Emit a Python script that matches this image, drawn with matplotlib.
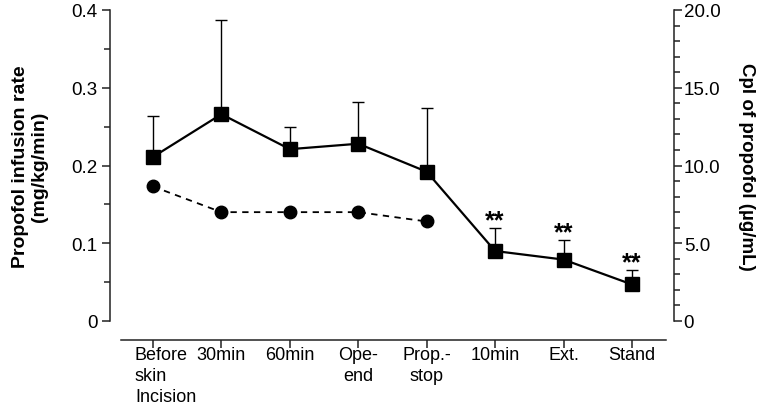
import matplotlib
matplotlib.use("Agg")
import matplotlib.pyplot as plt
from matplotlib.ticker import MultipleLocator, FixedLocator

plt.rcParams['font.family'] = ['Liberation Sans', 'DejaVu Sans']

categories = ["Before\nskin\nIncision", "30min", "60min", "Ope-\nend", "Prop.-\nstop", "10min", "Ext.", "Stand"]
infusion_rate = [0.211, 0.266, 0.221, 0.228, 0.192, 0.090, 0.079, 0.047]
infusion_err = [0.053, 0.121, 0.029, 0.054, 0.082, 0.030, 0.025, 0.019]
cpl = [8.65, 7.0, 7.0, 7.0, 6.4]
signif = ["", "", "", "", "", "**", "**", "**"]

left_ticks = [0, 0.1, 0.2, 0.3, 0.4]
left_labels = ["0", "0.1", "0.2", "0.3", "0.4"]
right_ticks = [0, 5, 10, 15, 20]
right_labels = ["0", "5.0", "10.0", "15.0", "20.0"]

fig = plt.figure(figsize=(7.68, 4.10), dpi=100)
ax = fig.add_axes([110/768, 1-322/410, (674-110)/768, (322-11)/410])
ax2 = ax.twinx()

x = list(range(len(categories)))
ax.errorbar(x, infusion_rate, yerr=[[0]*len(x), infusion_err], fmt='none',
            ecolor='black', elinewidth=1.0, capsize=4, capthick=1.0, zorder=2)
ax.plot(x, infusion_rate, color='black', lw=1.6, marker='s', ms=10.5,
        mfc='black', mec='black', zorder=3)
ax2.plot(x[:len(cpl)], cpl, color='black', lw=1.3, ls=(0, (3.5, 3)), marker='o',
         ms=9, mfc='black', mec='black', zorder=3)

for xi, v, e, s in zip(x, infusion_rate, infusion_err, signif):
    if s:
        ax.annotate(s, (xi, v + e), xytext=(0, -3), textcoords='offset points',
                    ha='center', va='bottom', fontsize=18, fontweight='bold')

ax.set_xlim(-0.628, 7.614)
ax.set_ylim(0, 0.4)
ax2.set_ylim(0, 20)

for a in (ax, ax2):
    a.spines['top'].set_visible(False)
    for sp in a.spines.values():
        sp.set_linewidth(1.1)
        sp.set_color('#222222')
ax2.spines['left'].set_visible(False)
ax2.spines['bottom'].set_visible(False)
ax.spines['right'].set_visible(False)
ax.spines['bottom'].set_position(('outward', 14))
ax.spines['bottom'].set_bounds(-0.468, 7.497)

ax.yaxis.set_major_locator(FixedLocator(left_ticks))
ax.set_yticklabels(left_labels)
ax.yaxis.set_minor_locator(MultipleLocator(0.05))
ax2.yaxis.set_major_locator(FixedLocator(right_ticks))
ax2.set_yticklabels(right_labels)
ax2.yaxis.set_minor_locator(MultipleLocator(1.0))

ax.tick_params(axis='y', which='major', length=6, width=1.1, labelsize=13.5, pad=3, color='#222222')
ax.tick_params(axis='y', which='minor', length=4, width=1.1, color='#222222')
ax2.tick_params(axis='y', which='major', length=6, width=1.1, labelsize=13.5, pad=1, color='#222222')
ax2.tick_params(axis='y', which='minor', length=4, width=1.1, color='#222222')

ax.set_xticks(x)
ax.set_xticklabels([])
ax.tick_params(axis='x', which='major', length=6, width=1.1, color='#222222')
for xi, lab in zip(x, categories):
    if xi == 0:
        ax.annotate(lab, (xi, 0), xycoords=('data', 'axes fraction'), xytext=(-13, -18),
                    textcoords='offset points', ha='left', va='top', fontsize=13,
                    multialignment='left', linespacing=1.3, annotation_clip=False)
    else:
        ax.annotate(lab, (xi, 0), xycoords=('data', 'axes fraction'), xytext=(0, -18),
                    textcoords='offset points', ha='center', va='top', fontsize=13,
                    multialignment='center', linespacing=1.3, annotation_clip=False)

ax.set_ylabel("Propofol infusion rate\n(mg/kg/min)", fontsize=14, fontweight='bold', labelpad=17, linespacing=1.15)
ax2.set_ylabel("Cpl of propofol (µg/mL)", fontsize=13.5, fontweight='bold', rotation=270, labelpad=25)

fig.savefig("out.png", dpi=100)
